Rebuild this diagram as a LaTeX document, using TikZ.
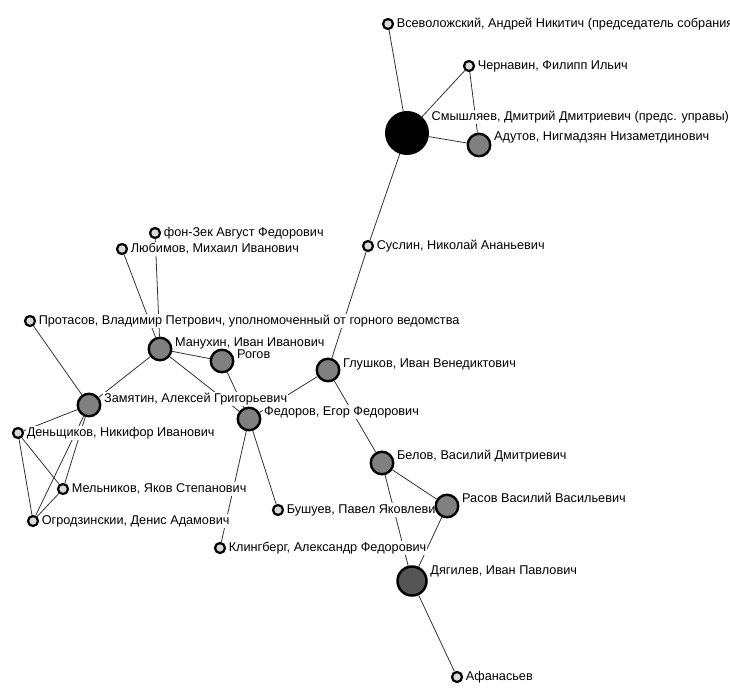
\documentclass[tikz,border=0pt]{standalone}
\usepackage{fontspec}
\setmainfont{Liberation Sans}
\usetikzlibrary{backgrounds}
\definecolor{leafgray}{RGB}{218,218,218}
\definecolor{midgray}{RGB}{128,128,128}
\definecolor{hubgray}{RGB}{85,85,85}
\tikzset{
	person/.style={circle,draw,fill=leafgray,line width=2.2pt,minimum size=10pt,inner sep=0pt},
	member/.style={person,fill=midgray,line width=2.4pt,minimum size=22.5pt},
	hub/.style={person,fill=hubgray,line width=2.5pt,minimum size=29pt},
	chief/.style={person,fill=black,line width=2pt,minimum size=42pt},
	fio/.style={fill=white,inner sep=1pt,text height=9pt,text depth=2.5pt,font=\fontsize{12.7}{14}\selectfont},
	tie/.style={draw=black!80,line width=0.8pt}
}
\begin{document}
\begin{tikzpicture}[x=1pt,y=-1pt,every label/.style={fio},label distance=1.5pt]
			\useasboundingbox (0,0) rectangle (730,698);
			\node[person] (vsev) [label=right:{Всеволожский, Андрей Никитич (председатель собрания)}] at (388,24) {};
			\node[person] (chern) [label=right:{Чернавин, Филипп Ильич}] at (469,66) {};
			\node[chief] (smysh) [label={[yshift=16pt]right:{Смышляев, Дмитрий Дмитриевич (предс. управы)}}] at (407,133) {};
			\node[member] (adut) [label={[yshift=7.5pt]right:{Адутов, Нигмадзян Низаметдинович}}] at (479,145) {};
			\node[person] (suslin) [label=right:{Суслин, Николай Ананьевич}] at (368,246) {};
			\node[person] (fonzek) [label=right:{фон-Зек Август Федорович}] at (155,233) {};
			\node[person] (lyub) [label=right:{Любимов, Михаил Иванович}] at (122,249) {};
			\node[person] (prot) [label=right:{Протасов, Владимир Петрович, уполномоченный от горного ведомства}] at (30,321) {};
			\node[member] (manuh) [label={[yshift=6pt]right:{Манухин, Иван Иванович}}] at (160,349) {};
			\node[member] (rogov) [label={[yshift=6pt]right:{Рогов}}] at (222,361) {};
			\node[member] (glush) [label={[yshift=6pt]right:{Глушков, Иван Венедиктович}}] at (328,370) {};
			\node[member] (zamyat) [label={[yshift=6pt]right:{Замятин, Алексей Григорьевич}}] at (89,405) {};
			\node[member] (fedor) [label={[yshift=7pt]right:{Федоров, Егор Федорович}}] at (249,419) {};
			\node[person] (densh) [label=right:{Деньщиков, Никифор Иванович}] at (18,433) {};
			\node[member] (belov) [label={[yshift=6.5pt]right:{Белов, Василий Дмитриевич}}] at (382,463) {};
			\node[person] (meln) [label=right:{Мельников, Яков Степанович}] at (63,489) {};
			\node[person] (bush) [label=right:{Бушуев, Павел Яковлевич}] at (278,510) {};
			\node[member] (rasov) [label={[yshift=6.5pt]right:{Расов Василий Васильевич}}] at (447,506) {};
			\node[person] (ogrod) [label=right:{Огродзинскии, Денис Адамович}] at (33,521) {};
			\node[person] (kling) [label=right:{Клингберг, Александр Федорович}] at (220,548) {};
			\node[hub] (dyag) [label={[yshift=10pt]right:{Дягилев, Иван Павлович}}] at (412,581) {};
			\node[person] (afan) [label=right:{Афанасьев}] at (457,677) {};

			\begin{scope}[on background layer]
			\path[tie]
					(smysh) edge (vsev)
					(smysh) edge (chern)
					(smysh) edge (adut)
					(chern) edge (adut)
					(smysh) edge (suslin)
					(suslin) edge (glush)
					(glush) edge (fedor)
					(glush) edge (belov)
					(fedor) edge (manuh)
					(fedor) edge (rogov)
					(fedor) edge (bush)
					(fedor) edge (kling)
					(manuh) edge (rogov)
					(manuh) edge (lyub)
					(manuh) edge (fonzek)
					(manuh) edge (zamyat)
					(zamyat) edge (prot)
					(zamyat) edge (densh)
					(zamyat) edge (meln)
					(zamyat) edge (ogrod)
					(densh) edge (meln)
					(densh) edge (ogrod)
					(meln) edge (ogrod)
					(belov) edge (rasov)
					(belov) edge (dyag)
					(rasov) edge (dyag)
					(dyag) edge (afan);
			\end{scope}
\end{tikzpicture}
\end{document}
